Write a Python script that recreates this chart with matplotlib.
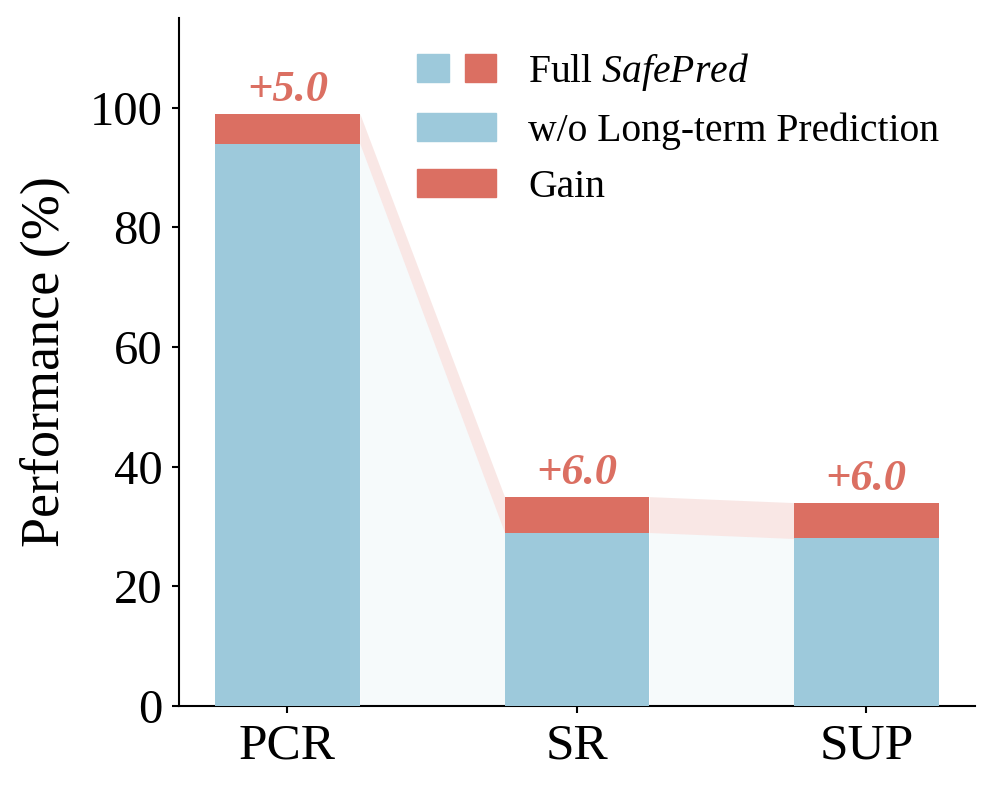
import numpy as np
import matplotlib
matplotlib.use('Agg')
import matplotlib.pyplot as plt
from matplotlib.patches import Patch
from matplotlib.legend_handler import HandlerTuple

plt.rcParams['font.family'] = ['Liberation Serif', 'DejaVu Serif']
plt.rcParams['mathtext.fontset'] = 'custom'
plt.rcParams['mathtext.rm'] = 'Liberation Serif'
plt.rcParams['mathtext.it'] = 'Liberation Serif:italic'

categories = ['PCR', 'SR', 'SUP']
base_vals = [94.0, 29.0, 28.0]   # w/o Long-term Prediction
gain_vals = [5.0, 6.0, 6.0]      # Gain
gain_labels = ['+5.0', '+6.0', '+6.0']

blue = '#9DC9DB'
red = '#DB6F62'

base = np.array(base_vals)
gain = np.array(gain_vals)
total = base + gain
x = np.arange(len(categories))
width = 0.5

fig = plt.figure(figsize=(9.96, 7.93), dpi=100)
ax = fig.add_axes([0.1797, 0.1097, 0.799, 0.8676])

# connecting shades between bars
for i in range(len(x) - 1):
    xs = [x[i] + width / 2, x[i + 1] - width / 2]
    ax.fill_between(xs, [0, 0], [base[i], base[i + 1]], color=blue, alpha=0.09, lw=0)
    ax.fill_between(xs, [base[i], base[i + 1]], [total[i], total[i + 1]],
                    color=red, alpha=0.16, lw=0)

ax.bar(x, base, width, color=blue, zorder=3)
ax.bar(x, gain, width, bottom=base, color=red, zorder=3)

for xi, t, lab in zip(x, total, gain_labels):
    ax.text(xi, t + 0.6, lab, ha='center', va='bottom', color=red,
            fontsize=32, fontweight='bold', fontstyle='italic')

ax.set_xlim(-0.375, 2.375)
ax.set_ylim(0, 115)
ax.set_yticks([0, 20, 40, 60, 80, 100])
ax.set_xticks(x)
ax.set_xticklabels(categories)
ax.tick_params(width=1.5, length=5, pad=7)
ax.tick_params(axis='y', labelsize=35)
ax.tick_params(axis='x', labelsize=37)
ax.set_ylabel('Performance (%)', fontsize=39, labelpad=14)
for s in ['top', 'right']:
    ax.spines[s].set_visible(False)
for s in ['left', 'bottom']:
    ax.spines[s].set_linewidth(1.5)

h_full = (Patch(color=blue), Patch(color=red))
h_base = Patch(color=blue)
h_gain = Patch(color=red)
ax.legend([h_full, h_base, h_gain],
          ['Full $\\it{SafePred}$', 'w/o Long-term Prediction', 'Gain'],
          handler_map={tuple: HandlerTuple(ndivide=None, pad=0.4)},
          loc='upper right', bbox_to_anchor=(1.0, 1.004), frameon=False,
          fontsize=28.5, handlelength=2.0, handleheight=0.7, labelspacing=0.49,
          handletextpad=0.8)

fig.savefig('out.png', dpi=100)
